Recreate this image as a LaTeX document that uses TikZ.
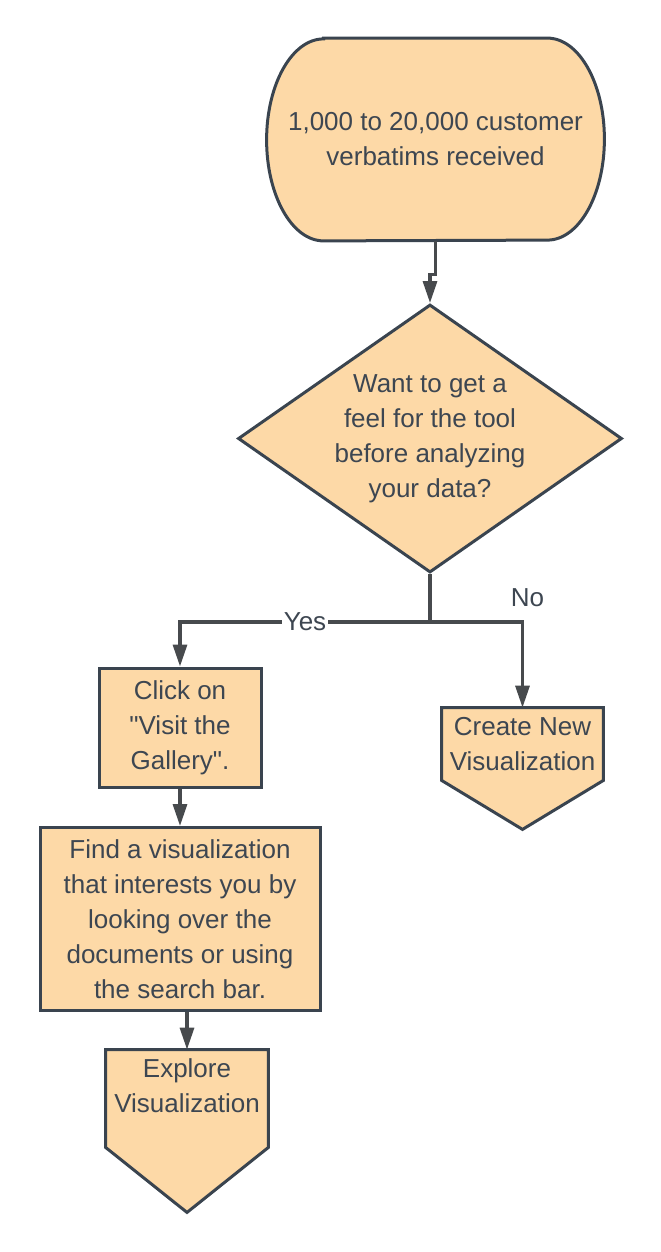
\documentclass[tikz,border=0pt]{standalone}
\usepackage{fontspec}
\setmainfont{Liberation Sans}[Ligatures=TeXOff]
\usetikzlibrary{arrows.meta, shapes.geometric, backgrounds, calc}
\definecolor{boxFill}{HTML}{FDD9A7}
\definecolor{boxLine}{HTML}{3A444F}
\definecolor{edgeGray}{HTML}{474A4D}
\definecolor{textGray}{HTML}{3D4651}
\tikzset{
    flowText/.style={font=\fontsize{13}{17.5}\selectfont, text=textGray, align=center},
    shapeLine/.style={draw=boxLine, fill=boxFill, line width=1.5pt, line join=miter},
    flowHolder/.style={flowText, inner sep=0pt},
    flowBox/.style={flowText, rectangle, shapeLine, inner sep=0pt},
    flowDecision/.style={flowText, diamond, shape aspect=1.43, shapeLine, inner sep=0pt},
    flowEdge/.style={-{Triangle[length=11pt, width=7pt]}, draw=edgeGray, line width=1.6pt},
    flowLabel/.style={flowText, inner sep=1pt},
}
\newcommand{\drawTerminal}[3]{
    % stadium outline behind the text node
    \begin{scope}[on background layer]
        \draw[shapeLine] ([xshift=#2]#1.north west) -- ([xshift=-#2]#1.north east)
            arc[start angle=90, end angle=-90, x radius=#2, y radius=#3]
            -- ([xshift=#2]#1.south west)
            arc[start angle=270, end angle=90, x radius=#2, y radius=#3] -- cycle;
    \end{scope}
}
\newcommand{\drawOffpage}[3]{
    % off-page pointer: sides go #2 below the node, tip #3 below it
    \begin{scope}[on background layer]
        \draw[shapeLine] (#1.north west) -- (#1.north east) -- ([yshift=-#2]#1.south east)
            -- ([yshift=-#3]#1.south) -- ([yshift=-#2]#1.south west) -- cycle;
    \end{scope}
}

\begin{document}
\begin{tikzpicture}[x=0.5pt, y=-0.5pt]
    \useasboundingbox (0,0) rectangle (660,1252);

    \node[flowHolder, minimum width=168.5pt, minimum height=101pt] (start) at (435.5,139.5)
        {1,000 to 20,000 customer\\verbatims received};
    \node[flowDecision, minimum width=192pt, minimum height=134pt] (ask) at (430,438.5)
        {Want to get a\\feel for the tool\\before analyzing\\your data?};
    \node[flowBox, minimum width=81pt, minimum height=59.5pt] (click) at (180,727.5)
        {Click on\\"Visit the\\Gallery".};
    \node[flowBox, minimum width=140pt, minimum height=91.5pt] (find) at (180,919)
        {Find a visualization\\that interests you by\\looking over the\\documents or using\\the search bar.};
    \node[flowHolder, minimum width=80.5pt, minimum height=36pt] (create) at (522.5,744)
        {Create New\\Visualization};
    \node[flowHolder, minimum width=81pt, minimum height=36pt] (explore) at (187,1086)
        {Explore\\Visualization};

    \drawTerminal{start}{28.5pt}{50.5pt}
    \drawOffpage{create}{0pt}{24.5pt}
    \drawOffpage{explore}{12.5pt}{45pt}

    \draw[flowEdge] (start.south) -- ++(0,33.5) -| (ask.north);
    \draw[flowEdge] (ask.south) -- ++(0,48) coordinate (split)
        -| node[flowLabel, pos=0.25, fill=white] {Yes} (click.north);
    \draw[flowEdge] (split) -| node[flowLabel, pos=0.5, above, xshift=2.5pt, yshift=6pt] {No} (create.north);
    \draw[flowEdge] (click.south) -- (find.north);
    \draw[flowEdge] (explore.north |- find.south) -- (explore.north);

\end{tikzpicture}
\end{document}
